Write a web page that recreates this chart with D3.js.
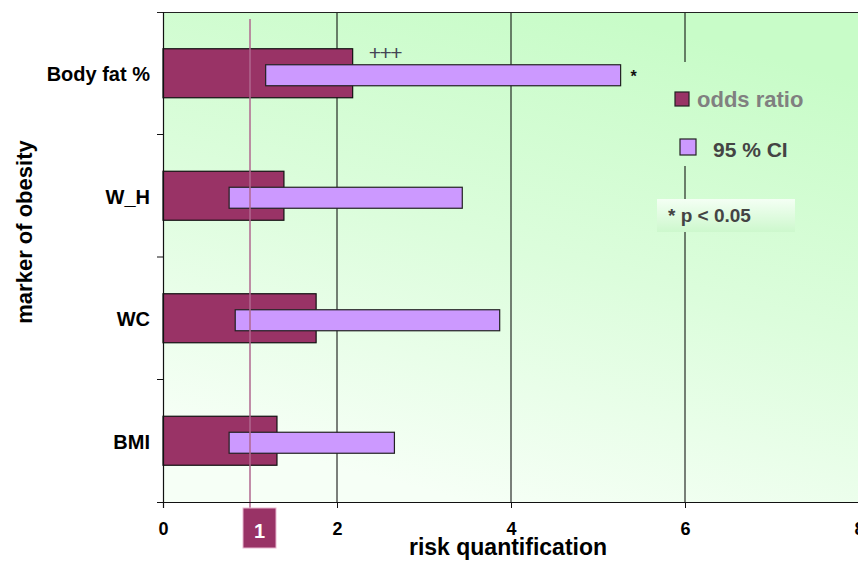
<!DOCTYPE html>
<html>
<head>
<meta charset="utf-8">
<script src="https://cdn.jsdelivr.net/npm/d3@7"></script>
<style>
  html, body { margin: 0; padding: 0; background: #fff; }
  svg { display: block; font-family: Arial, "Liberation Sans", sans-serif; }
</style>
</head>
<body>
<svg id="chart" width="858" height="561"></svg>
<script>
// Risk of obesity markers: odds ratio with 95 % confidence interval
const markers    = ["Body fat %", "W_H", "WC", "BMI"];
const oddsRatio  = [2.18, 1.39, 1.76, 1.31];
const ciLower    = [1.18, 0.76, 0.83, 0.76];
const ciUpper    = [5.26, 3.44, 3.87, 2.66];
const xTicks     = [0, 2, 4, 6, 8];
const nullValue  = 1;
const markerNotes = ["*", "", "", ""];
const orNotes     = ["+++", "", "", ""];

const svg = d3.select("#chart");
const W = 858, H = 561;
const plot = { left: 163, top: 12, right: 859, bottom: 502 };

const x = d3.scaleLinear().domain([0, 8]).range([plot.left, plot.right]);
const y = d3.scaleBand().domain(markers).range([plot.top, plot.bottom]);

// Background gradient
const defs = svg.append("defs");
const bg = defs.append("linearGradient").attr("id", "bg")
  .attr("gradientUnits", "userSpaceOnUse")
  .attr("x1", 600).attr("y1", plot.top).attr("x2", 470).attr("y2", plot.bottom);
bg.append("stop").attr("offset", 0).attr("stop-color", "#c8fcc8");
bg.append("stop").attr("offset", 0.5).attr("stop-color", "#dcfddc");
bg.append("stop").attr("offset", 1).attr("stop-color", "#f6fff6");

const noteBg = defs.append("linearGradient").attr("id", "noteBg")
  .attr("x1", 0).attr("y1", 0).attr("x2", 0).attr("y2", 1);
noteBg.append("stop").attr("offset", 0).attr("stop-color", "#f4fff4");
noteBg.append("stop").attr("offset", 1).attr("stop-color", "#cdf8cd");

svg.append("rect")
  .attr("x", plot.left).attr("y", plot.top)
  .attr("width", plot.right - plot.left).attr("height", plot.bottom - plot.top)
  .attr("fill", "url(#bg)");

// Vertical gridlines
svg.append("g").selectAll("line")
  .data(xTicks.filter(d => d > 0))
  .join("line")
  .attr("x1", d => x(d)).attr("x2", d => x(d))
  .attr("y1", plot.top).attr("y2", plot.bottom)
  .attr("stroke", "#000").attr("stroke-width", 1);

// Top border
svg.append("line")
  .attr("x1", plot.left - 6).attr("x2", W)
  .attr("y1", plot.top + 0.5).attr("y2", plot.top + 0.5)
  .attr("stroke", "#222").attr("stroke-width", 1);

// Legend panel (covers gridline)
svg.append("rect")
  .attr("x", 664).attr("y", 62).attr("width", 194).attr("height", 104)
  .attr("fill", "url(#bg)");

// Odds ratio bars
const orH = 49, ciH = 21;
svg.append("g").selectAll("rect")
  .data(markers)
  .join("rect")
  .attr("x", x(0))
  .attr("y", d => y(d) + y.bandwidth() / 2 - orH / 2)
  .attr("width", (d, i) => x(oddsRatio[i]) - x(0))
  .attr("height", orH)
  .attr("fill", "#993366")
  .attr("stroke", "#111").attr("stroke-width", 1.2);

// Confidence interval bars
svg.append("g").selectAll("rect")
  .data(markers)
  .join("rect")
  .attr("x", (d, i) => x(ciLower[i]))
  .attr("y", d => y(d) + y.bandwidth() / 2 - ciH / 2 + 2)
  .attr("width", (d, i) => x(ciUpper[i]) - x(ciLower[i]))
  .attr("height", ciH)
  .attr("fill", "#cc99ff")
  .attr("stroke", "#222").attr("stroke-width", 1.2);

// Significance markers
svg.append("g").selectAll("text")
  .data(markers)
  .join("text")
  .attr("x", (d, i) => x(ciUpper[i]) + 10)
  .attr("y", d => y(d) + y.bandwidth() / 2 + 9)
  .attr("font-size", 16).attr("font-weight", "bold").attr("fill", "#111")
  .text((d, i) => markerNotes[i]);

svg.append("g").selectAll("text")
  .data(markers)
  .join("text")
  .attr("x", (d, i) => x(oddsRatio[i]) + 16)
  .attr("y", d => y(d) + y.bandwidth() / 2 - 13)
  .attr("font-size", 21).attr("fill", "#445").attr("letter-spacing", -1.5)
  .text((d, i) => orNotes[i]);

// Null-effect reference line
svg.append("line")
  .attr("x1", x(nullValue)).attr("x2", x(nullValue))
  .attr("y1", 19).attr("y2", 508)
  .attr("stroke", "#b0678f").attr("stroke-width", 1.5);

// Left axis
svg.append("line")
  .attr("x1", plot.left + 0.5).attr("x2", plot.left + 0.5)
  .attr("y1", plot.top).attr("y2", plot.bottom + 6)
  .attr("stroke", "#111").attr("stroke-width", 1.2);
const bandEdges = markers.map(d => y(d) + y.bandwidth()).slice(0, -1);
svg.append("g").selectAll("line")
  .data(bandEdges)
  .join("line")
  .attr("x1", plot.left - 6).attr("x2", plot.left)
  .attr("y1", d => d).attr("y2", d => d)
  .attr("stroke", "#111");

// Bottom axis
const xAxis = svg.append("g")
  .attr("transform", `translate(0,${plot.bottom})`)
  .call(d3.axisBottom(x).tickValues(xTicks).tickSize(6).tickFormat(d3.format("d")));
xAxis.select(".domain").attr("stroke", "#111").attr("stroke-width", 1.2)
  .attr("d", `M${plot.left - 6},0.5H${W}`);
xAxis.selectAll(".tick line").attr("stroke", "#111");
xAxis.selectAll(".tick text")
  .attr("y", 20).attr("dy", "0.71em")
  .attr("font-size", 18).attr("font-weight", "bold")
  .attr("font-family", "Arial, 'Liberation Sans', sans-serif").attr("fill", "#000");

// Highlighted "1" label
svg.append("rect")
  .attr("x", x(nullValue) - 7).attr("y", 508).attr("width", 33).attr("height", 40)
  .attr("fill", "#993366").attr("stroke", "#e8b8d0").attr("stroke-width", 1);
svg.append("text")
  .attr("x", x(nullValue) + 9.5).attr("y", 538)
  .attr("text-anchor", "middle")
  .attr("font-size", 20).attr("font-weight", "bold").attr("fill", "#fff")
  .text(nullValue);

// Category labels
svg.append("g").selectAll("text")
  .data(markers)
  .join("text")
  .attr("x", 150)
  .attr("y", d => y(d) + y.bandwidth() / 2 + 8)
  .attr("text-anchor", "end")
  .attr("font-size", 20).attr("font-weight", "bold").attr("fill", "#000")
  .text(d => d);

// Axis titles
svg.append("text")
  .attr("x", 508).attr("y", 555)
  .attr("text-anchor", "middle")
  .attr("font-size", 23).attr("font-weight", "bold").attr("fill", "#000")
  .text("risk quantification");

svg.append("text")
  .attr("transform", "translate(32,232) rotate(-90)")
  .attr("text-anchor", "middle")
  .attr("font-size", 22).attr("font-weight", "bold").attr("fill", "#000")
  .text("marker of obesity");

// Legend
const legend = [
  { label: "odds ratio", fill: "#993366", sx: 675, sy: 92, s: 14, tx: 697, ty: 107, size: 22, color: "#808080" },
  { label: "95 % CI",    fill: "#cc99ff", sx: 680, sy: 139, s: 16, tx: 713, ty: 157, size: 21, color: "#444" }
];
const lg = svg.append("g").selectAll("g").data(legend).join("g");
lg.append("rect")
  .attr("x", d => d.sx).attr("y", d => d.sy)
  .attr("width", d => d.s).attr("height", d => d.s)
  .attr("fill", d => d.fill).attr("stroke", "#222").attr("stroke-width", 1.2);
lg.append("text")
  .attr("x", d => d.tx).attr("y", d => d.ty)
  .attr("font-size", d => d.size).attr("font-weight", "bold")
  .attr("fill", d => d.color)
  .text(d => d.label);

// Significance note
svg.append("rect")
  .attr("x", 657).attr("y", 199).attr("width", 138).attr("height", 33)
  .attr("fill", "url(#noteBg)");
svg.append("text")
  .attr("x", 668).attr("y", 222)
  .attr("font-size", 19).attr("font-weight", "bold").attr("fill", "#444")
  .text("* p < 0.05");
</script>
</body>
</html>
